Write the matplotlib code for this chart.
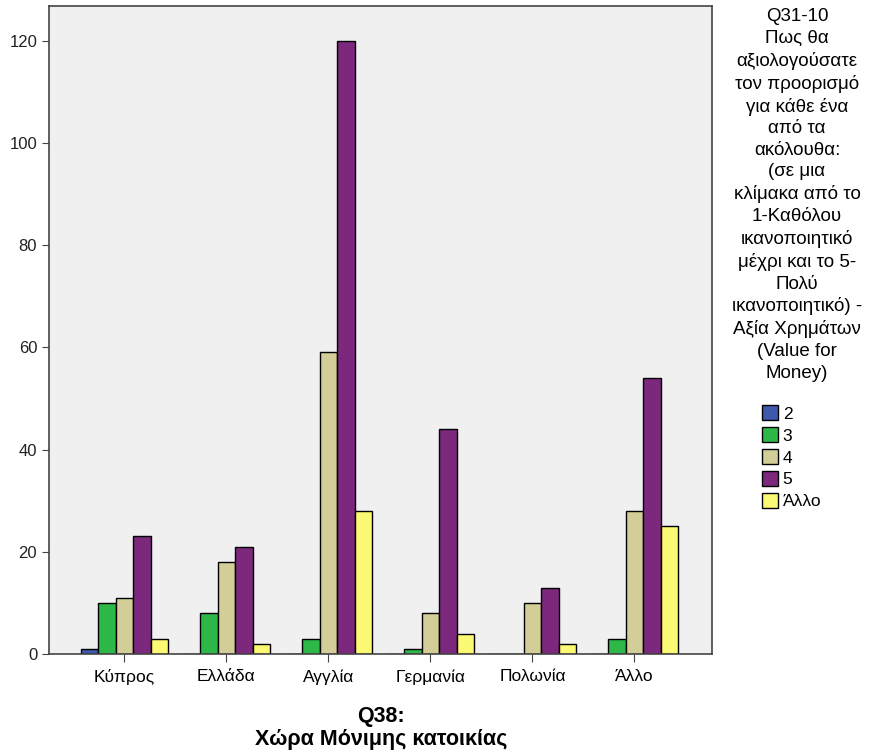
import numpy as np
import matplotlib.pyplot as plt
from matplotlib.patches import Patch

plt.rcParams['font.family'] = ['Liberation Sans', 'DejaVu Sans']

countries = ["Κύπρος", "Ελλάδα", "Αγγλία", "Γερμανία", "Πολωνία", "Άλλο"]
series = ["2", "3", "4", "5", "Άλλο"]
v2 = [1, 0, 0, 0, 0, 0]
v3 = [10, 8, 3, 1, 0, 3]
v4 = [11, 18, 59, 8, 10, 28]
v5 = [23, 21, 120, 44, 13, 54]
v_allo = [3, 2, 28, 4, 2, 25]
values = [v2, v3, v4, v5, v_allo]
colors = ["#3E58AC", "#2EB848", "#D3CE97", "#7C287D", "#FBF873"]

legend_title = ("Q31-10\nΠως θα\nαξιολογούσατε\nτον προορισμό\nγια κάθε ένα\nαπό τα\n"
                "ακόλουθα:\n(σε μια\nκλίμακα από το\n1-Καθόλου\nικανοποιητικό\n"
                "μέχρι και το 5-\nΠολύ\nικανοποιητικό) -\nΑξία Χρημάτων\n(Value for\nMoney)")

fig = plt.figure(figsize=(8.7, 7.54), dpi=100)
ax = fig.add_axes([49/870, 1-654/754, 663/870, 648/754])
ax.set_facecolor("#F0F0F0")

x = np.arange(len(countries))
w = 0.172
for i, (vals, c) in enumerate(zip(values, colors)):
    ax.bar(x + (i - 2) * w, vals, width=w, color=c, edgecolor="black", linewidth=1)

ax.set_xlim(-0.74, 5.76)
ax.set_ylim(0, 126.8)
ax.set_yticks([0, 20, 40, 60, 80, 100, 120])
ax.set_xticks(x)
ax.set_xticklabels(countries, fontsize=12.5)
ax.tick_params(axis="y", labelsize=12, length=5, color="#444444", colors="#222222")
ax.tick_params(axis="x", length=6, color="#444444", pad=5)
for s in ax.spines.values():
    s.set_color("#444444")
    s.set_linewidth(1.2)

fig.text(381/870, 1-728/754, "Q38:\nΧώρα Μόνιμης κατοικίας", ha="center", va="center",
         fontsize=15.5, fontweight="bold", linespacing=1.12)

fig.text(797/870, 1-8/754, legend_title, ha="center", va="top", fontsize=13.5,
         linespacing=1.355)

handles = [Patch(facecolor=c, edgecolor="black", label=s) for c, s in zip(colors, series)]
fig.legend(handles=handles, loc="upper left", bbox_to_anchor=(755/870, 1-398/754),
           frameon=False, fontsize=12.5, handlelength=0.9, handleheight=1.0,
           handletextpad=0.3, labelspacing=0.3, borderaxespad=0)

fig.savefig("out.png", dpi=100)
